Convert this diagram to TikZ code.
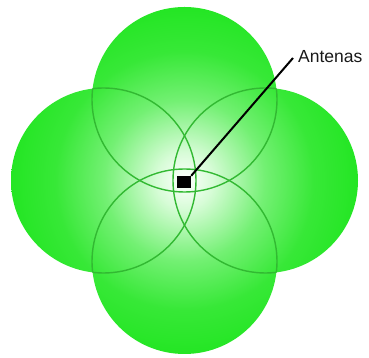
\documentclass[tikz,border=0pt]{standalone}
\usepackage{fontspec}
\setmainfont{Liberation Sans}
\definecolor{gA}{RGB}{215,252,215}
\definecolor{gB}{RGB}{115,240,115}
\definecolor{gC}{RGB}{55,232,55}
\definecolor{gD}{RGB}{35,230,35}
\definecolor{edgegreen}{RGB}{50,185,50}
\pgfdeclareradialshading{antshade}{\pgfpoint{0bp}{0bp}}{color(0bp)=(white); color(4bp)=(gA); color(11.5bp)=(gB); color(18.5bp)=(gC); color(25bp)=(gD); color(50bp)=(gD)}
\tikzset{
  cellline/.style={draw=edgegreen, line width=1.4pt},
  antbox/.style={fill=black, minimum width=14pt, minimum height=12pt, inner sep=0pt},
  lbl/.style={anchor=base west, inner sep=0pt, font=\fontsize{17.5}{20}\selectfont, text=black!90},
  lead/.style={line width=2pt, black}
}
\begin{document}
\begin{tikzpicture}[x=1pt,y=1pt]
\useasboundingbox (0,0) rectangle (369,358);
\coordinate (C) at (184.5,177.5);
\coordinate (T) at (184.5,258.5);
\coordinate (L) at (103.5,177.5);
\coordinate (R) at (265.5,177.5);
\coordinate (B) at (184.5,96.5);
\begin{scope}
  \clip (T) circle (92.5pt) (L) circle (92.5pt) (R) circle (92.5pt) (B) circle (92.5pt);
  \shade[shading=antshade] (C) circle (175pt);
\end{scope}
\begin{scope}
  \clip (L) circle (92.5pt) (R) circle (92.5pt) (B) circle (92.5pt);
  \path[cellline] (T) circle (92.5pt);
\end{scope}
\begin{scope}
  \clip (T) circle (92.5pt) (R) circle (92.5pt) (B) circle (92.5pt);
  \path[cellline] (L) circle (92.5pt);
\end{scope}
\begin{scope}
  \clip (T) circle (92.5pt) (L) circle (92.5pt) (B) circle (92.5pt);
  \path[cellline] (R) circle (92.5pt);
\end{scope}
\begin{scope}
  \clip (T) circle (92.5pt) (L) circle (92.5pt) (R) circle (92.5pt);
  \path[cellline] (B) circle (92.5pt);
\end{scope}
\node[antbox] (ant) at (184,176) {};
\node[lbl] (lab) at (298,295.5) {Antenas};
\coordinate (tip) at (293,300);
\draw[lead] (ant.north east) -- (tip);
\end{tikzpicture}
\end{document}
